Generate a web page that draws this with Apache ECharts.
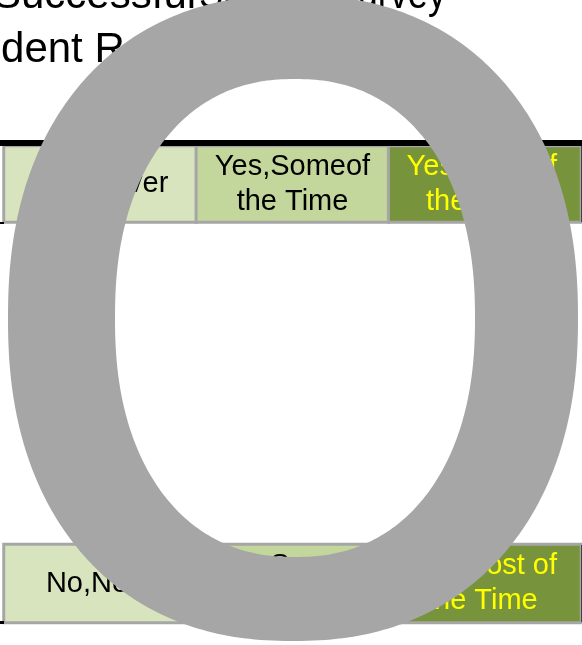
<!DOCTYPE html>
<html>
<head>
<meta charset="utf-8">
<script src="https://cdn.jsdelivr.net/npm/echarts@6/dist/echarts.min.js"></script>
<style>html,body{margin:0;padding:0;background:#fff;}#chart{width:582px;height:645px;}</style>
</head>
<body>
<div id="chart"></div>
<script>
// ---- data ----
const categories = ['No, Never', 'Yes, Some of the Time', 'Yes, Most of the Time'];
const cellLabels = ['No,Never', 'Yes,Someof\nthe Time', 'Yes,Most of\nthe Time'];
const responseLevels = [1, 2, 3];
const keyRows = ['Key (top)', 'Key (bottom)'];
const titleLine1 = ['Successful', 'Student Survey'];
const titleLine2 = 'Student Responses';
const ringValue = [1];

// ---- styles ----
const cellColors = ['#d7e4bd', '#c3d69b', '#77933c'];
const labelColors = ['#000000', '#000000', '#ffff00'];
const labelOffsets = [[7, 0], [0, 0], [-3, 0]];
const FONT = '"Liberation Sans", Arial, sans-serif';

function rowData() {
  return categories.map((c, i) => ({
    name: c,
    value: [i, 0, responseLevels[i]],
    itemStyle: { color: cellColors[i] },
    label: { color: labelColors[i], offset: labelOffsets[i] }
  }));
}

function heatSeries(idx) {
  return {
    type: 'heatmap',
    xAxisIndex: idx, yAxisIndex: idx,
    data: rowData(),
    z: 2,
    itemStyle: { borderColor: '#a6a6a6', borderWidth: 3 },
    label: {
      show: true,
      fontFamily: FONT, fontSize: 29, lineHeight: 35,
      formatter: p => cellLabels[p.data.value[0]]
    },
    emphasis: { disabled: true },
    silent: true
  };
}

// superellipse outline, as SVG path commands
function loop(cx, cy, a, b, p, reverse) {
  const N = 360, pts = [];
  for (let k = 0; k < N; k++) {
    const t = (reverse ? -1 : 1) * k / N * Math.PI * 2;
    const c = Math.cos(t), s = Math.sin(t);
    const x = cx + a * Math.sign(c) * Math.pow(Math.abs(c), 2 / p);
    const y = cy + b * Math.sign(s) * Math.pow(Math.abs(s), 2 / p);
    pts.push((k === 0 ? 'M ' : 'L ') + x.toFixed(2) + ' ' + y.toFixed(2));
  }
  return pts.join(' ') + ' Z';
}

const chart = echarts.init(document.getElementById('chart'), null, { renderer: 'canvas' });
chart.setOption({
  animation: false,
  backgroundColor: '#ffffff',
  grid: [
    { left: 4, width: 577, top: 146, height: 76 },
    { left: 4, width: 577, top: 544.5, height: 78 }
  ],
  xAxis: [
    { type: 'category', gridIndex: 0, data: categories, show: false },
    { type: 'category', gridIndex: 1, data: categories, show: false }
  ],
  yAxis: [
    { type: 'category', gridIndex: 0, data: [keyRows[0]], show: false },
    { type: 'category', gridIndex: 1, data: [keyRows[1]], show: false }
  ],
  graphic: [
    { type: 'text', x: -7, y: -4, z: 1,
      style: { text: titleLine1[0], font: '42px ' + FONT, fill: '#000', verticalAlign: 'middle', textVerticalAlign: 'middle' } },
    { type: 'text', x: 446, y: -4, scaleX: 0.86, z: 1,
      style: { text: titleLine1[1], font: '42px ' + FONT, fill: '#000', align: 'right', textAlign: 'right', verticalAlign: 'middle', textVerticalAlign: 'middle' } },
    { type: 'text', x: -62, y: 50, z: 1,
      style: { text: titleLine2, font: '42px ' + FONT, fill: '#000', verticalAlign: 'middle', textVerticalAlign: 'middle' } },
    { type: 'rect', z: 5, shape: { x: 0, y: 140, width: 582, height: 6 }, style: { fill: '#000' } },
    { type: 'rect', z: 5, shape: { x: 0, y: 222, width: 4, height: 2 }, style: { fill: '#000' } },
    { type: 'rect', z: 5, shape: { x: 0, y: 621, width: 4, height: 3 }, style: { fill: '#000' } },
    { type: 'rect', z: 5, shape: { x: 581, y: 146, width: 1, height: 76 }, style: { fill: '#404040' } },
    { type: 'rect', z: 5, shape: { x: 581, y: 545, width: 1, height: 77 }, style: { fill: '#404040' } }
  ],
  series: [
    heatSeries(0),
    heatSeries(1),
    {
      type: 'custom',
      coordinateSystem: 'none',
      data: ringValue,
      z: 20,
      silent: true,
      renderItem: function () {
        const d = loop(293, 318, 285, 323, 2.25, false) + ' ' + loop(295, 318, 180, 239, 2.25, true);
        return { type: 'path', shape: { pathData: d }, style: { fill: '#a6a6a6' } };
      }
    }
  ]
});
</script>
</body>
</html>
